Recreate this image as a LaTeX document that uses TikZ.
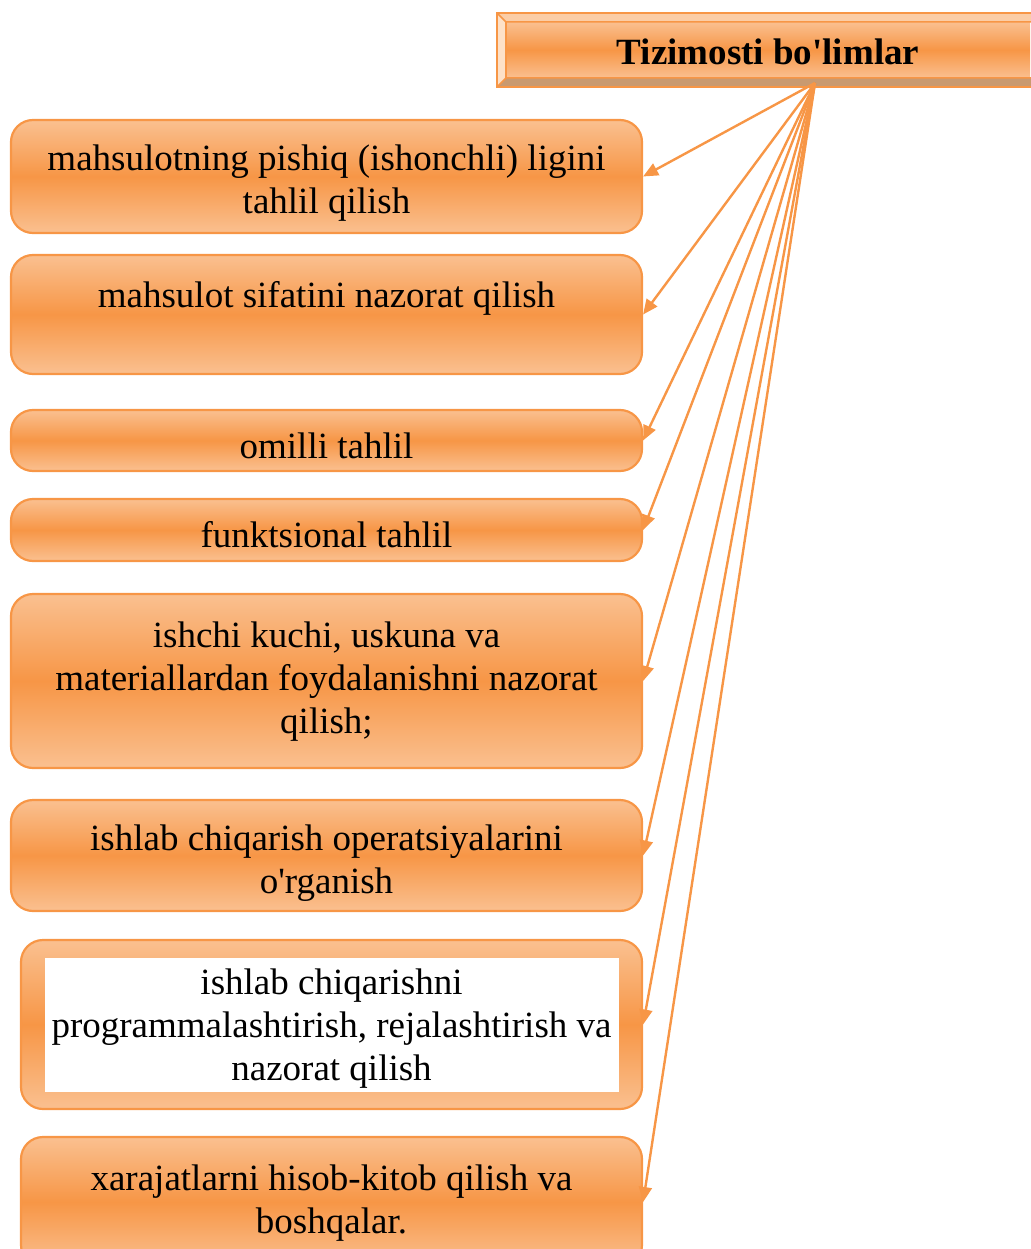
\documentclass[tikz,border=0pt]{standalone}
\usepackage{fontspec}
\setmainfont{Liberation Serif}
\usetikzlibrary{arrows.meta, positioning}
\definecolor{boxorange}{HTML}{F79646}
\definecolor{boxlight}{HTML}{FAC090}
\definecolor{bevellight}{HTML}{FBCDA6}
\definecolor{bevelpale}{HTML}{FDE1C8}
\definecolor{beveldark}{HTML}{C99A70}

\begin{document}
\begin{tikzpicture}[
  x=1pt, y=-1pt,
  bnode/.style={rectangle, rounded corners=22pt, draw=boxorange, line width=2.2pt,
    top color=boxlight, bottom color=boxlight, middle color=boxorange,
    minimum width=631pt, inner sep=0pt},
  btext/.style={align=center, inner sep=0pt, font=\fontsize{37}{43}\selectfont},
  hnode/.style={rectangle, top color=boxlight, bottom color=boxlight,
    middle color=boxorange, minimum width=524pt, minimum height=56pt,
    inner sep=0pt},
  wnode/.style={rectangle, fill=white, minimum width=574pt, minimum height=134pt,
    inner sep=0pt},
  arr/.style={draw=boxorange, line width=2.4pt, -{Triangle[length=15pt, width=13pt]}}
]
\useasboundingbox (0,0) rectangle (1030,1249);

% ---- Header ----
\fill[bevellight] (497,13) -- (1040,13) -- (1040,22) -- (506,22) -- cycle;
\fill[bevelpale] (497,13) -- (506,22) -- (506,78) -- (497,87) -- cycle;
\fill[beveldark] (497,87) -- (506,78) -- (1040,78) -- (1040,87) -- cycle;
\node[hnode] (head) at (768,50) {};
\node[btext, font=\fontsize{37}{43}\selectfont\bfseries] (headt)
  at ([yshift=-2pt]head.center) {Tizimosti bo\textquotesingle limlar};
\draw[boxorange, line width=2pt] (497,13) rectangle (1040,87);
\draw[boxorange, line width=1.5pt] (497,13) -- (506,22) -- (1040,22);
\draw[boxorange, line width=1.5pt] (497,87) -- (506,78) -- (1040,78);
\draw[boxorange, line width=1.5pt] (506,22) -- (506,78);
\coordinate (hub) at (815,83);

% ---- Sub-units ----
\node[bnode, minimum height=113pt] (b1) at (326.5,176.5) {};
\node[btext] (b1t) at ([yshift=-7pt]b1.center)
  {mahsulotning pishiq (ishonchli) ligini\\tahlil qilish};

\node[bnode, minimum height=119pt] (b2) at (326.5,314.5) {};
\node[btext] (b2t) at ([yshift=16pt]b2.center) {mahsulot sifatini nazorat qilish};

\node[bnode, minimum height=61pt] (b3) at (326.5,440.5) {};
\node[btext] (b3t) at ([yshift=-5pt]b3.center) {omilli tahlil};

\node[bnode, minimum height=62pt] (b4) at (326.5,530) {};
\node[btext] (b4t) at ([yshift=-5pt]b4.center) {funktsional tahlil};

\node[bnode, minimum height=174pt] (b5) at (326.5,681) {};
\node[btext] (b5t) at ([yshift=-1pt]b5.center)
  {ishchi kuchi, uskuna va\\materiallardan foydalanishni nazorat\\qilish;};

\node[bnode, minimum height=111pt] (b6) at (326.5,855.5) {};
\node[btext] (b6t) at ([yshift=-8pt]b6.center)
  {ishlab chiqarish operatsiyalarini\\o\textquotesingle rganish};

\node[bnode, minimum width=621pt, minimum height=169pt] (b7) at (331.5,1024.5) {};
\node[wnode] (b7w) at (b7.center) {};
\node[btext] (b7t) at ([yshift=-4pt]b7.center)
  {ishlab chiqarishni\\programmalashtirish, rejalashtirish va\\nazorat qilish};

\node[bnode, minimum width=621pt, minimum height=130pt] (b8) at (331.5,1202) {};
\node[btext] (b8t) at ([yshift=-1pt]b8.center)
  {xarajatlarni hisob-kitob qilish va\\boshqalar.};

% ---- Arrows from header ----
\foreach \b in {b1,b2,b3,b4,b5,b6,b7,b8}
  \draw[arr] (hub) -- (\b.east);

\end{tikzpicture}
\end{document}
